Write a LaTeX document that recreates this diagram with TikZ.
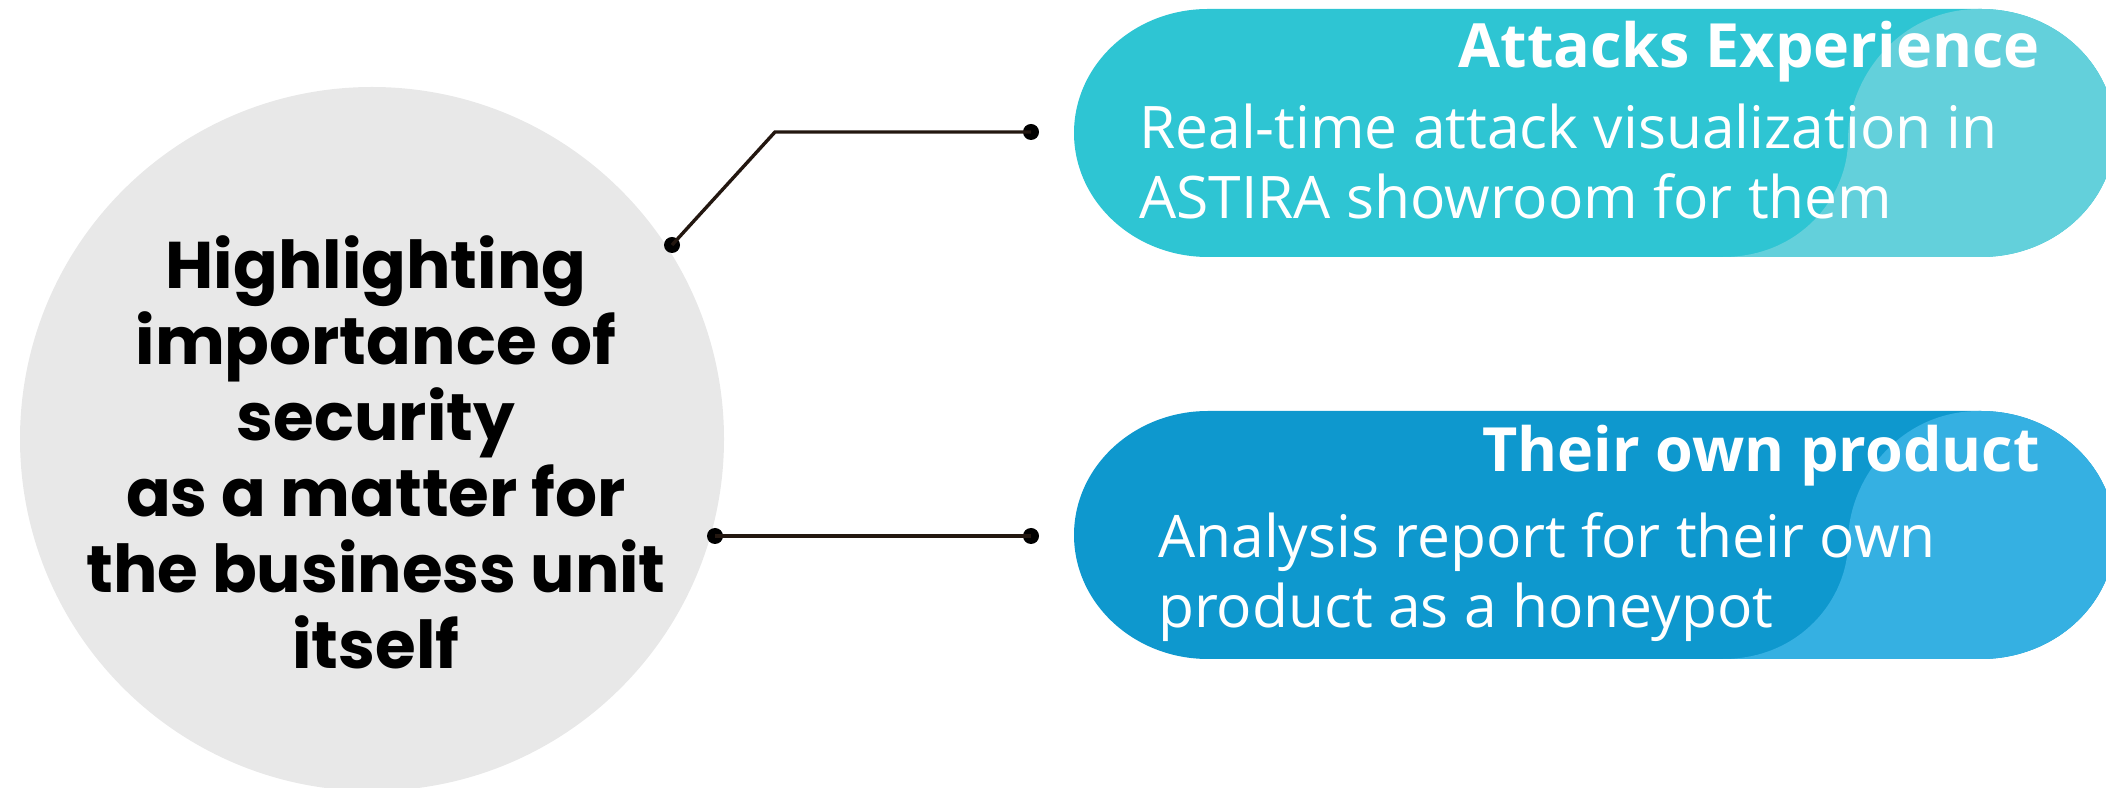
\documentclass[tikz,border=0pt]{standalone}
\usepackage{fontspec}
\setmainfont{Open Sans}
\newfontfamily\roundfont{Poppins}
\definecolor{discgray}{HTML}{E8E8E8}
\definecolor{linebrown}{HTML}{231710}
\definecolor{tealdark}{HTML}{2EC5D3}
\definecolor{teallight}{HTML}{63D0DB}
\definecolor{bluedark}{HTML}{0E98CE}
\definecolor{bluelight}{HTML}{35B0E2}
\tikzset{
  joiner/.style={draw=linebrown, line width=3.4pt},
  enddot/.style={circle, fill=black, inner sep=0pt, minimum size=16pt},
  pilltitle/.style={text=white, font=\bfseries\fontsize{61}{70}\selectfont, inner sep=0pt},
  pillbody/.style={text=white, font=\fontsize{58.7}{70}\selectfont, align=left, inner sep=0pt},
}
% capsule with elliptical ends, vertical centre #1
\newcommand\capsulepath[1]{(1208pt,#1pt+124pt) -- (1981pt,#1pt+124pt)
  arc[start angle=90, end angle=-90, x radius=134pt, y radius=124pt]
  -- (1208pt,#1pt-124pt)
  arc[start angle=270, end angle=90, x radius=134pt, y radius=124pt] -- cycle}
% lighter tilted lobe on the right part of a capsule, vertical centre #1
\newcommand\lobepath[1]{(1723pt,#1pt-124pt)
  .. controls (1800pt,#1pt-124pt) and (1848pt,#1pt-64pt) .. (1848pt,#1pt-7pt)
  .. controls (1848pt,#1pt+56pt) and (1900pt,#1pt+124pt) .. (1979pt,#1pt+124pt)
  -- (2200pt,#1pt+124pt) -- (2200pt,#1pt-124pt) -- cycle}
\begin{document}
\begin{tikzpicture}[x=1pt,y=1pt]
\useasboundingbox (0,0) rectangle (2106,787);

% central disc
\fill[discgray] (372,348) circle[radius=352pt];
\node[font=\roundfont\bfseries\fontsize{66}{76}\selectfont, align=center, inner sep=0pt]
  (core) at (376,335) {Highlighting\\importance of\\security\\as a matter for\\the business unit\\itself};

% upper capsule
\fill[tealdark] \capsulepath{654};
\begin{scope}
  \clip \capsulepath{654};
  \fill[teallight] \lobepath{654};
\end{scope}
\node[pilltitle, anchor=base east] (t1) at (2040,719) {Attacks Experience};
\node[pillbody, anchor=north west] (b1) at (1139,683) {Real-time attack visualization in\\ASTIRA showroom for them};

% lower capsule
\fill[bluedark] \capsulepath{252};
\begin{scope}
  \clip \capsulepath{252};
  \fill[bluelight] \lobepath{252};
\end{scope}
\node[pilltitle, anchor=base east] (t2) at (2040,315) {Their own product};
\node[pillbody, anchor=north west] (b2) at (1158,275) {Analysis report for their own\\product as a honeypot};

% connectors
\node[enddot] (d1) at (672,542) {};
\coordinate (bend) at (775,655);
\node[enddot] (d2) at (1031,655) {};
\node[enddot] (d3) at (715,251) {};
\node[enddot] (d4) at (1031,251) {};
\draw[joiner] (d1.center) -- (bend) -- (d2.center);
\draw[joiner] (d3.center) -- (d4.center);
\end{tikzpicture}
\end{document}
